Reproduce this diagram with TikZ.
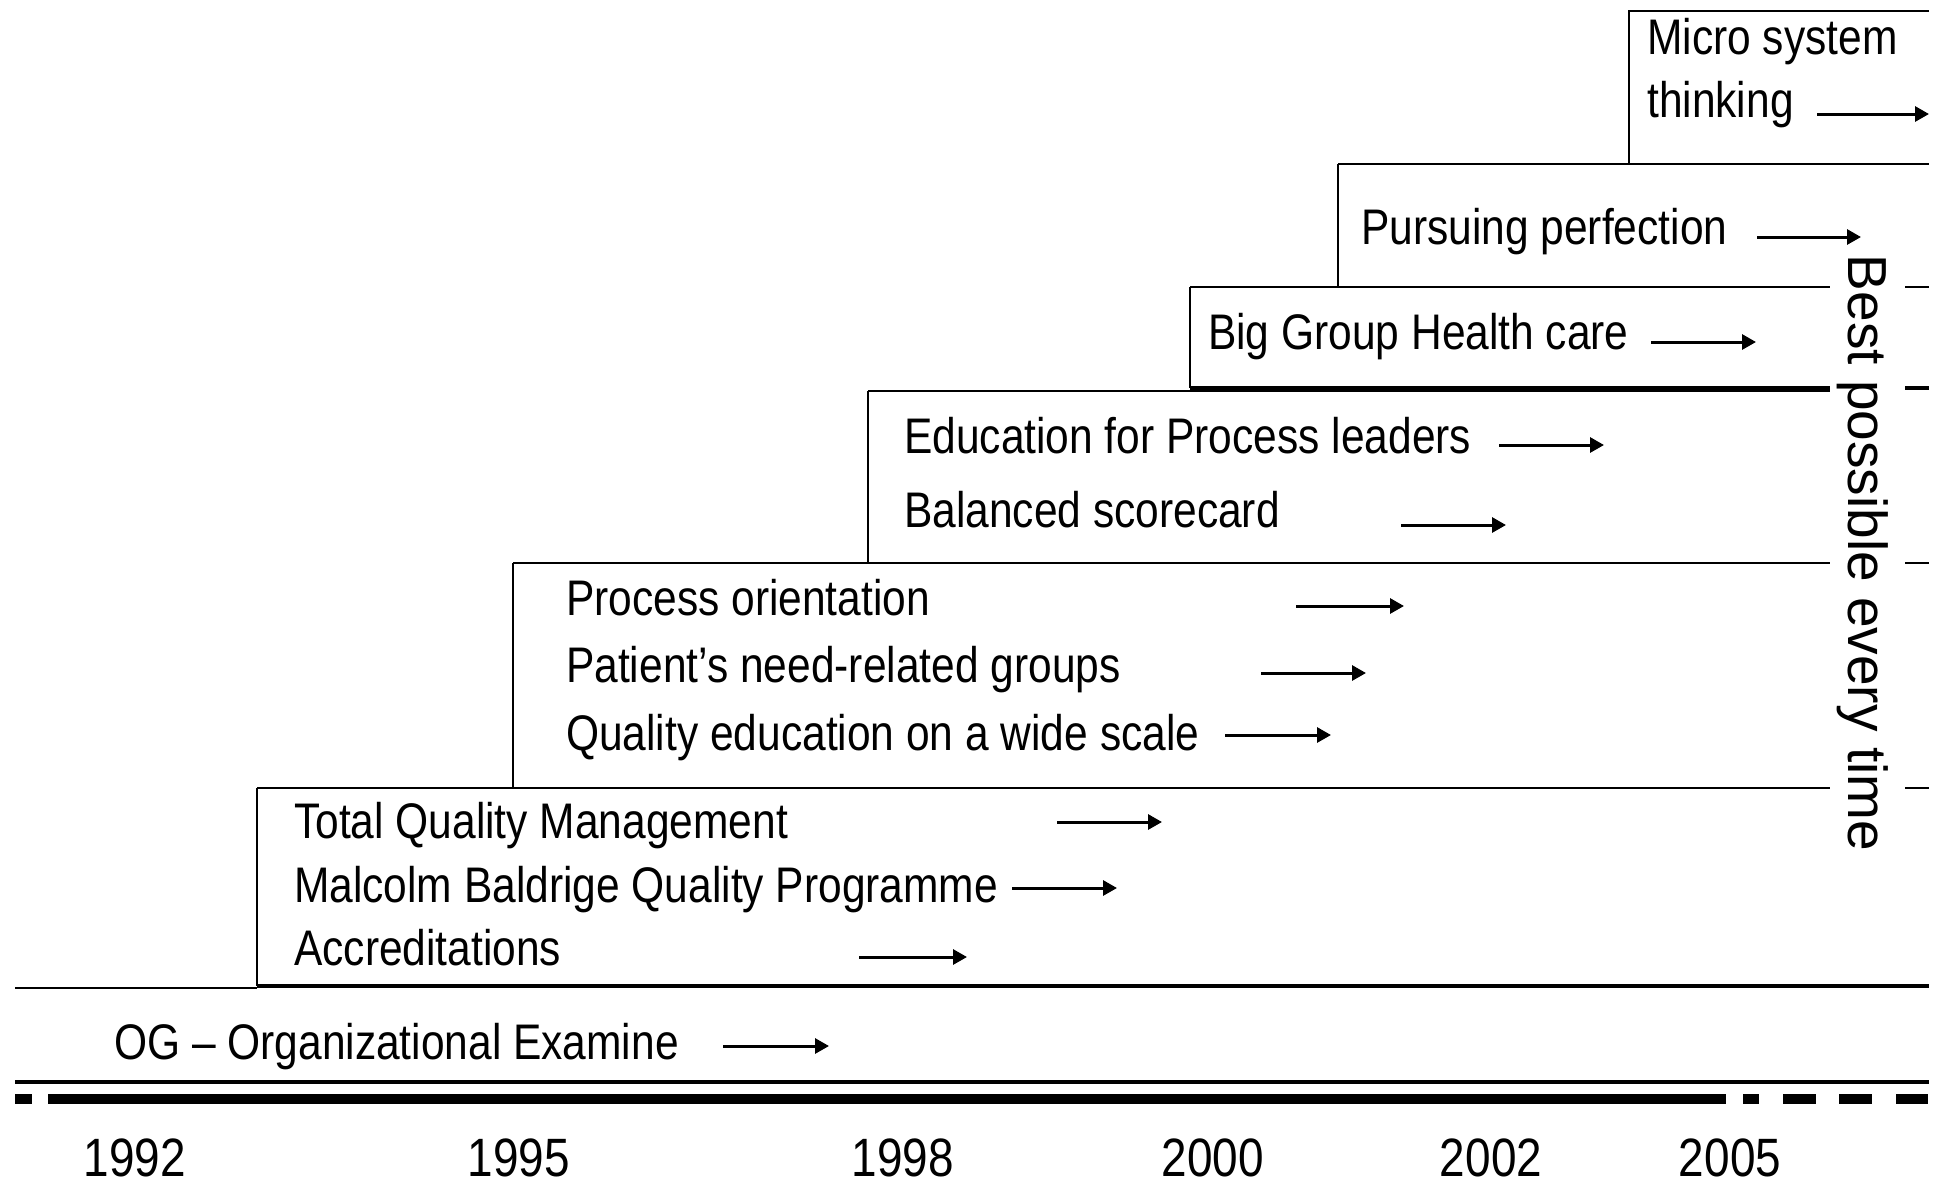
\documentclass[tikz,border=0pt]{standalone}
\usepackage{fontspec}
\setmainfont{Liberation Sans}[FakeStretch=0.85]
\newfontfamily\vfont{Liberation Sans}
\usetikzlibrary{arrows.meta}
\begin{document}
\begin{tikzpicture}[x=1pt,y=-1pt,
  ln/.style={line width=2.5pt},
  thk/.style={line width=3.2pt},
  arr/.style={line width=3pt,-{Triangle[length=14pt,width=15pt]}},
  lab/.style={anchor=base west,inner sep=0pt,font=\fontsize{50}{60}\selectfont},
  yr/.style={anchor=base,inner sep=0pt,font=\fontsize{54}{64}\selectfont}]
\useasboundingbox (0,0) rectangle (1939,1184);

% boxes (open on the right)
\draw[ln] (1929,11) -- (1629,11) -- (1629,164);
\draw[ln] (1338,164) -- (1929,164);
\draw[ln] (1338,164) -- (1338,287);
\draw[ln] (1190,287) -- (1830,287);
\draw[ln] (1905,287) -- (1929,287);
\draw[ln] (1190,287) -- (1190,388);
\draw[thk] (1190,388) -- (1830,388);
\draw[thk] (1905,388) -- (1929,388);
\draw[ln] (868,391) -- (1830,391);
\draw[ln] (868,391) -- (868,563);
\draw[ln] (513,563) -- (1830,563);
\draw[ln] (1905,563) -- (1929,563);
\draw[ln] (513,563) -- (513,788);
\draw[ln] (257,788) -- (1830,788);
\draw[ln] (1905,788) -- (1929,788);
\draw[ln] (257,788) -- (257,986);
\draw[line width=3.5pt] (257,986) -- (1929,986);
\draw[ln] (15,988) -- (257,988);
\draw[thk] (15,1082) -- (1929,1082);

% timeline
\fill (15,1094) rectangle (32,1104);
\draw[line width=10pt] (48,1099) -- (1726,1099);
\fill (1743,1094) rectangle (1759,1104);
\fill (1783,1094) rectangle (1816,1104);
\fill (1839,1094) rectangle (1872,1104);
\fill (1896,1094) rectangle (1928,1104);

% labels
\node[lab] (micro) at (1647,54) {Micro system};
\node[lab] (think) at (1647,117) {thinking};
\node[lab] (purs) at (1361,244) {Pursuing perfection};
\node[lab] (big) at (1208,349) {Big Group Health care};
\node[lab] (edu) at (904,453) {Education for Process leaders};
\node[lab] (bal) at (904,527) {Balanced scorecard};
\node[lab] (proc) at (566,615) {Process orientation};
\node[lab] (pat) at (566,682) {Patient’s need-related groups};
\node[lab] (qual) at (566,750) {Quality education on a wide scale};
\node[lab] (tqm) at (294,838) {Total Quality Management};
\node[lab] (mal) at (294,902) {Malcolm Baldrige Quality Programme};
\node[lab] (acc) at (294,965) {Accreditations};
\node[lab] (og) at (114,1059) {OG – Organizational Examine};

% arrows
\draw[arr] (1817,114) -- (1929,114);
\draw[arr] (1757,237) -- (1861,237);
\draw[arr] (1651,342) -- (1756,342);
\draw[arr] (1499,445) -- (1604,445);
\draw[arr] (1401,525) -- (1506,525);
\draw[arr] (1296,606) -- (1404,606);
\draw[arr] (1261,673) -- (1366,673);
\draw[arr] (1225,735) -- (1331,735);
\draw[arr] (1057,822) -- (1162,822);
\draw[arr] (1012,888) -- (1117,888);
\draw[arr] (859,957) -- (967,957);
\draw[arr] (723,1046) -- (829,1046);

% vertical text
\node[anchor=base,inner sep=0pt,rotate=-90,font=\vfont\fontsize{55}{66}\selectfont] (best) at (1848,553) {Best possible every time};

% years
\node[yr] (y92) at (135,1176) {1992};
\node[yr] (y95) at (519,1176) {1995};
\node[yr] (y98) at (903,1176) {1998};
\node[yr] (y00) at (1213,1176) {2000};
\node[yr] (y02) at (1491,1176) {2002};
\node[yr] (y05) at (1730,1176) {2005};
\end{tikzpicture}
\end{document}
